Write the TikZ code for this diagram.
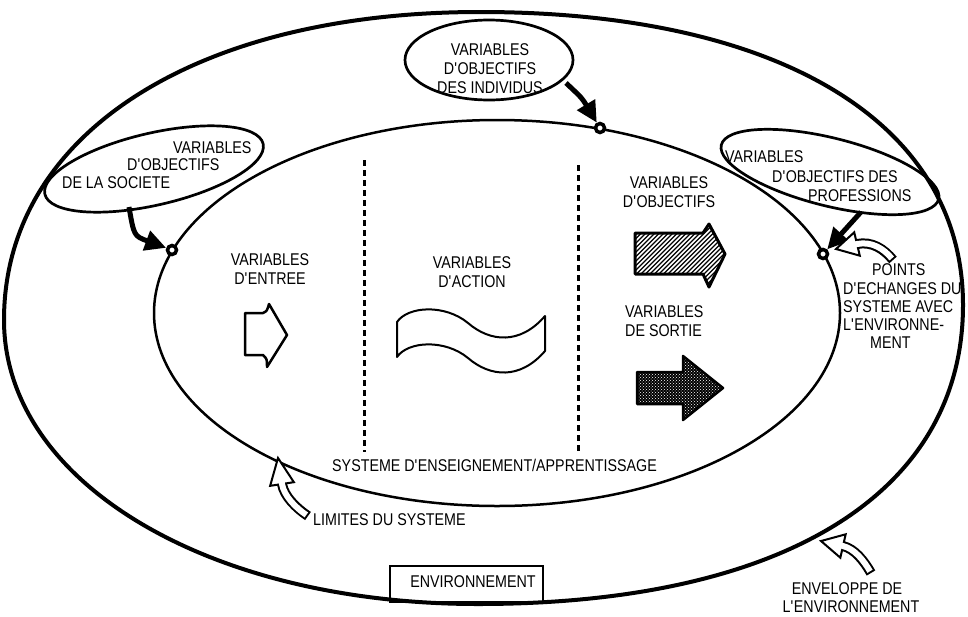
\documentclass[tikz,border=0pt]{standalone}
\usepackage{fontspec}
\newfontfamily\labfont[FakeStretch=0.84]{Liberation Sans}
\usetikzlibrary{arrows.meta,shapes.geometric,patterns,calc}
\newcommand{\ap}{\textquotesingle}
\newcommand{\hollowarr}[5]{%
  \draw[line width=10pt] (#1) .. controls (#2) and (#3) .. (#4);
  \filldraw[fill=white, line width=2pt, line join=miter] (#5) -- ($(#4)!12pt!90:(#5)$) -- ($(#4)!12pt!-90:(#5)$) -- cycle;
  \draw[white, line width=6pt, shorten <=2pt] (#1) .. controls (#2) and (#3) .. (#4) -- ($(#4)!3pt!(#5)$);
}
\begin{document}
\begin{tikzpicture}[x=1pt,y=1pt,
  lbl/.style={font={\labfont\fontsize{17pt}{19pt}\selectfont}, inner sep=0pt, align=center},
  marker/.style={circle, draw, fill=white, line width=3.5pt, minimum size=9pt, inner sep=0pt},
  bubble/.style={ellipse, draw, line width=2.7pt, inner sep=0pt},
  blackarrow/.style={line width=5pt, -{Triangle[length=21pt,width=20pt]}},
  divider/.style={line width=3pt, dash pattern=on 6pt off 4pt},
  blockarrow/.style={line width=2.5pt, line join=round}
]
\useasboundingbox (0,0) rectangle (968,-616);
\fill[white] (0,0) rectangle (968,-616);

% environment box
\node[draw, line width=1.8pt, minimum width=153pt, minimum height=36pt, inner sep=0pt, anchor=north west] (envbox) at (389,-565) {};

% outer envelope
\draw[line width=4pt, line join=round] (4,-320) .. controls (4,-135) and (194,-12) .. (480,-12)
  .. controls (780,-12) and (963,-123) .. (963,-305)
  .. controls (963,-493) and (784,-604) .. (478,-604)
  .. controls (208,-604) and (4,-482) .. (4,-320) -- cycle;

% system boundary
\draw[line width=2.5pt] (497,-313) ellipse [x radius=343, y radius=193];

% dividers
\coordinate (d1a) at (364,-160); \coordinate (d1b) at (364,-452);
\coordinate (d2a) at (578,-165); \coordinate (d2b) at (578,-452);
\draw[divider] (d1a) -- (d1b);
\draw[divider] (d2a) -- (d2b);

% bubbles
\node[bubble, minimum width=168pt, minimum height=80pt] (bInd) at (489,-60) {};
\node[bubble, minimum width=224pt, minimum height=72pt, rotate=13] (bSoc) at (154,-169) {};
\node[bubble, minimum width=224pt, minimum height=68pt, rotate=-14] (bPro) at (830,-172) {};

% exchange points
\node[marker] (mSoc) at (172,-250) {};
\node[marker] (mInd) at (600,-128) {};
\node[marker] (mPro) at (823,-254) {};

% black arrows
\coordinate (sInd) at (566,-83);
\draw[blackarrow] (sInd) .. controls (582,-98) .. (mInd);
\coordinate (sSoc) at (129,-207);
\draw[blackarrow] (sSoc) .. controls (134,-236) .. (mSoc);
\coordinate (sPro) at (861,-212);
\draw[blackarrow] (sPro) -- (mPro);

% hollow curved arrows
\hollowarr{893,-260}{884,-249}{872,-241}{857,-244}{836,-249}
\hollowarr{308,-516}{296,-508}{284,-496}{282,-484}{278,-458}
\hollowarr{871,-573}{864,-561}{855,-549}{843,-546}{821,-541}

% entry arrow
\draw[blockarrow] (245,-313) -- (263,-313) .. controls (267,-311) .. (269,-304) -- (287,-335) -- (267,-367) .. controls (267,-359) .. (263,-355) -- (245,-355) -- cycle;

% action wave
\draw[line width=2pt, line join=round] (397,-322) .. controls (408,-306) and (445,-304) .. (468,-323)
  .. controls (490,-342) and (520,-345) .. (545,-316) -- (545,-351)
  .. controls (520,-380) and (490,-377) .. (468,-358)
  .. controls (445,-339) and (408,-341) .. (397,-357) -- cycle;

% hatched objective arrow
\begin{scope}
\clip (635,-233) -- (703,-233) -- (709,-224) -- (725,-254) -- (709,-287) -- (703,-274) -- (635,-274) -- cycle;
\foreach \i in {0,...,42} \draw[line width=1.3pt] ({560+4.5*\i},-292) -- ++(75,75);
\end{scope}
\draw[blockarrow, line width=3pt] (635,-233) -- (703,-233) -- (709,-224) -- (725,-254) -- (709,-287) -- (703,-274) -- (635,-274) -- cycle;

% dotted output arrow
\path[fill=black, postaction={pattern=crosshatch dots, pattern color=white}] (637,-372) -- (683,-372) -- (683,-356) -- (723,-388) -- (683,-420) -- (683,-404) -- (637,-404) -- cycle;
\draw[blockarrow] (637,-372) -- (683,-372) -- (683,-356) -- (723,-388) -- (683,-420) -- (683,-404) -- (637,-404) -- cycle;

% texts
\node[lbl] (tInd) at (490,-69) {VARIABLES\\D\ap OBJECTIFS\\DES INDIVIDUS};
\node[lbl, anchor=west] (tSoc1) at (173,-148) {VARIABLES};
\node[lbl, anchor=west] (tSoc2) at (127,-165) {D\ap OBJECTIFS};
\node[lbl, anchor=west] (tSoc3) at (62,-183) {DE LA SOCIETE};
\node[lbl, anchor=west] (tPro1) at (725,-157) {VARIABLES};
\node[lbl, anchor=west] (tPro2) at (772,-177) {D\ap OBJECTIFS DES};
\node[lbl, anchor=west] (tPro3) at (808,-196) {PROFESSIONS};
\node[lbl] (tEnt) at (270,-269) {VARIABLES\\D\ap ENTREE};
\node[lbl] (tAct) at (472,-272.5) {VARIABLES\\D\ap ACTION};
\node[lbl] (tObj) at (669,-192.5) {VARIABLES\\D\ap OBJECTIFS};
\node[lbl, anchor=west, align=left] (tSor) at (625,-321.5) {VARIABLES\\DE SORTIE};
\node[lbl, anchor=west] (tSys) at (332,-465) {SYSTEME D\ap ENSEIGNEMENT/APPRENTISSAGE};
\node[lbl, anchor=west] (tLim) at (313,-520) {LIMITES DU SYSTEME};
\node[lbl] (tEnv) at (473,-582) {ENVIRONNEMENT};
\node[lbl] (tEnvA) at (847,-589) {ENVELOPPE DE};
\node[lbl] (tEnvB) at (851,-607) {L\ap ENVIRONNEMENT};
\node[lbl, anchor=west] (tPts1) at (872,-270) {POINTS};
\node[lbl, anchor=west] (tPts2) at (843,-289) {D\ap ECHANGES DU};
\node[lbl, anchor=west] (tPts3) at (843,-307) {SYSTEME AVEC};
\node[lbl, anchor=west] (tPts4) at (843,-325) {L\ap ENVIRONNE-};
\node[lbl, anchor=west] (tPts5) at (870,-343) {MENT};
\end{tikzpicture}
\end{document}
